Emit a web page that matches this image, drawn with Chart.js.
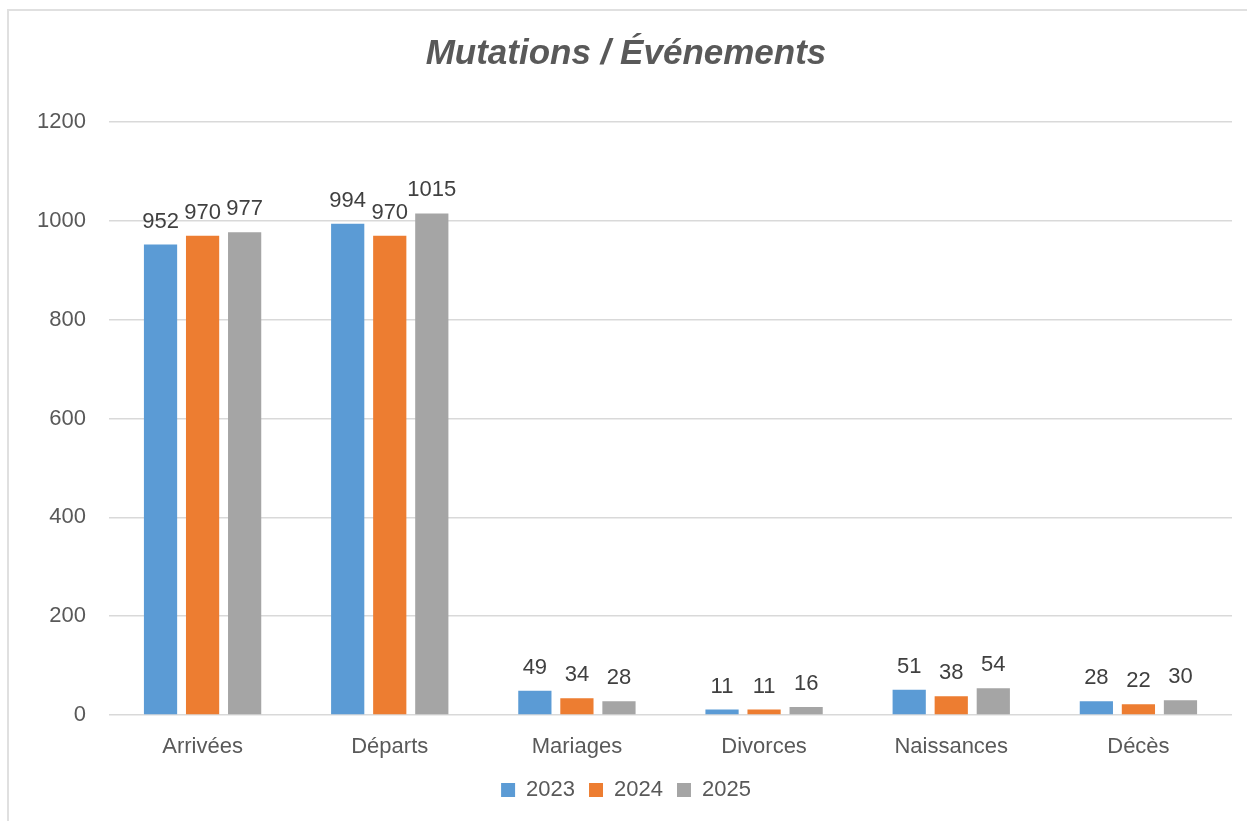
<!DOCTYPE html>
<html>
<head>
    <meta charset="utf-8">
    <title>Mutations / Événements</title>
    <script src="https://cdn.jsdelivr.net/npm/chart.js"></script>
    <style>
        html, body { margin: 0; padding: 0; background: #fff; }
        #wrap { position: relative; width: 1247px; height: 821px; }
        #frame { position: absolute; left: 7px; top: 9px; right: -2px; bottom: -2px;
                 border-left: 2px solid #e0e0e0; border-top: 2px solid #e0e0e0; pointer-events: none; }
    </style>
</head>
<body>
    <div id="wrap">
        <canvas id="myChart" width="1247" height="821"></canvas>
        <div id="frame"></div>
    </div>

    <script>
        // values
        const categories = ['Arrivées', 'Départs', 'Mariages', 'Divorces', 'Naissances', 'Décès'];
        const years = ['2023', '2024', '2025'];
        const values2023 = [952, 994, 49, 11, 51, 28];
        const values2024 = [970, 970, 34, 11, 38, 22];
        const values2025 = [977, 1015, 28, 16, 54, 30];
        const yTicks = [0, 200, 400, 600, 800, 1000, 1200];
        const colors = ['#5B9BD5', '#ED7D31', '#A5A5A5'];

        const FONT = '"Liberation Sans", Arial, sans-serif';

        // draws the value above each bar, like the Excel data labels
        const barLabels = {
            id: 'barLabels',
            afterDatasetsDraw(chart) {
                const ctx = chart.ctx;
                ctx.save();
                ctx.font = '22px ' + FONT;
                ctx.fillStyle = '#404040';
                ctx.textAlign = 'center';
                ctx.textBaseline = 'alphabetic';
                chart.data.datasets.forEach((ds, i) => {
                    chart.getDatasetMeta(i).data.forEach((bar, j) => {
                        ctx.fillText(String(ds.data[j]), bar.x, bar.y - 17);
                    });
                });
                ctx.restore();
            }
        };

        document.addEventListener('DOMContentLoaded', function () {
            const ctx = document.getElementById('myChart').getContext('2d');
            const myChart = new Chart(ctx, {
                type: 'bar',
                data: {
                    labels: categories,
                    datasets: [values2023, values2024, values2025].map((d, i) => ({
                        label: years[i],
                        data: d,
                        backgroundColor: colors[i],
                        borderWidth: 0,
                        categoryPercentage: 0.674,
                        barPercentage: 0.79
                    }))
                },
                options: {
                    responsive: false,
                    animation: false,
                    layout: { padding: { left: 20, right: 15, top: 0, bottom: 10 } },
                    plugins: {
                        title: {
                            display: true,
                            text: 'Mutations / Événements',
                            color: '#595959',
                            font: { family: FONT, size: 35, weight: 'bold', style: 'italic' },
                            padding: { top: 33, bottom: 47 }
                        },
                        legend: {
                            position: 'bottom',
                            labels: {
                                color: '#595959',
                                font: { family: FONT, size: 22 },
                                boxWidth: 14,
                                boxHeight: 14,
                                padding: 14
                            }
                        },
                        tooltip: { enabled: false }
                    },
                    scales: {
                        x: {
                            grid: { display: false },
                            border: { display: false },
                            ticks: {
                                color: '#595959',
                                font: { family: FONT, size: 22 },
                                padding: 11
                            },
                            afterFit: (scale) => { scale.height = 50; }
                        },
                        y: {
                            min: 0,
                            max: 1200,
                            afterBuildTicks: (scale) => {
                                scale.ticks = yTicks.map(v => ({ value: v }));
                            },
                            grid: { color: '#d9d9d9', lineWidth: 1.5, drawTicks: false },
                            border: { display: false },
                            ticks: {
                                color: '#595959',
                                font: { family: FONT, size: 22 },
                                padding: 23,
                                callback: (v) => String(v)
                            },
                            afterFit: (scale) => { scale.width = 89; }
                        }
                    }
                },
                plugins: [barLabels]
            });
        });
    </script>
</body>
</html>
